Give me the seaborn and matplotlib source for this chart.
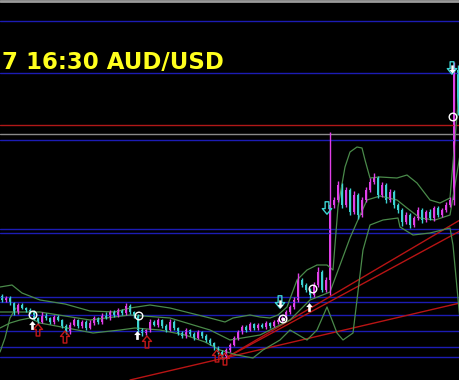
import numpy as np
import pandas as pd
import matplotlib
matplotlib.use("Agg")
import matplotlib.pyplot as plt
from matplotlib.path import Path
import seaborn as sns

# price levels (chart units, bottom of window = 0)
closes = [80, 82, 77, 68, 75, 72, 70, 68, 62, 58, 65, 62, 58, 63, 60, 54, 48, 55, 60, 54,
          58, 52, 57, 62, 58, 65, 62, 68, 65, 70, 67, 74, 68, 64, 50, 47, 50, 58, 55, 60,
          54, 50, 58, 52, 47, 44, 50, 46, 42, 48, 44, 40, 37, 32, 28, 24, 30, 35, 42, 48,
          53, 50, 56, 52, 55, 53, 57, 54, 58, 60, 62, 68, 73, 80, 100, 95, 90, 85, 95, 108,
          90, 100, 175, 180, 195, 175, 190, 168, 185, 165, 180, 190, 198, 202, 185, 195, 180, 188, 175, 170,
          158, 165, 155, 162, 170, 160, 168, 162, 172, 165, 170, 175, 180, 310, 268]
first_open = 84
wick_up = [2, 2, 2, 1, 2, 2, 1, 2, 2, 1, 3, 2, 1, 2, 2, 1, 2, 3, 2, 1,
           2, 2, 3, 2, 1, 2, 3, 2, 2, 2, 1, 3, 2, 1, 2, 2, 1, 3, 2, 2,
           1, 2, 3, 2, 1, 2, 2, 1, 2, 2, 1, 2, 2, 1, 2, 2, 2, 2, 2, 2,
           2, 2, 2, 1, 2, 2, 2, 1, 2, 2, 2, 2, 2, 3, 7, 2, 2, 2, 3, 5,
           2, 3, 73, 3, 4, 2, 3, 2, 4, 2, 3, 3, 4, 5, 2, 3, 2, 3, 2, 2,
           2, 3, 2, 2, 3, 2, 2, 3, 2, 2, 2, 3, 3, 8, 5]
wick_dn = [2, 2, 2, 3, 2, 1, 2, 2, 2, 2, 1, 2, 2, 2, 1, 2, 2, 2, 1, 2,
           2, 2, 1, 2, 2, 2, 1, 2, 2, 2, 2, 2, 2, 2, 2, 3, 2, 2, 1, 2,
           2, 2, 1, 2, 2, 2, 2, 2, 2, 1, 2, 2, 2, 2, 2, 3, 2, 2, 1, 2,
           2, 2, 1, 2, 2, 1, 2, 2, 1, 2, 2, 1, 2, 2, 2, 2, 2, 3, 2, 2,
           2, 2, 15, 3, 2, 3, 2, 3, 2, 4, 2, 2, 2, 2, 3, 2, 3, 2, 3, 3,
           4, 2, 3, 2, 2, 3, 2, 2, 3, 2, 2, 2, 2, 5, 3]

# Bollinger band traces (candle index, level)
upper_x = [-0.5, 2.5, 5, 9.5, 15.75, 22, 28.25, 32, 37, 42, 47, 52, 55.75, 57.75, 62, 64.5, 67, 69, 71.25,
           73.75, 76.25, 78.75, 81.25, 82.75, 84, 85.75, 87, 88.75, 90, 90.75, 92, 94.5, 98.75, 101.25,
           103.75, 107, 109.5, 112, 114.5]
upper_y = [93, 95, 87, 80, 76, 69, 68, 72, 75, 72, 67, 62, 58, 62, 65, 63, 62, 65, 73,
           100, 110, 115, 115, 110, 173, 213, 228, 233, 232, 220, 202, 203, 202, 205,
           197, 180, 177, 182, 300]
mid_x = [-0.5, 9.5, 22, 32, 42, 52, 57, 64.5, 72, 77, 82, 84.5, 87, 88.75, 91.25, 94.5, 98.75, 101.25,
         104.5, 108.25, 112, 114.5]
mid_y = [68, 68, 60, 65, 62, 50, 40, 45, 60, 80, 88, 115, 142, 158, 180, 184, 180, 172,
         162, 160, 165, 225]
lower_x = [-0.5, 2, 4.5, 7, 9.5, 16.25, 22.75, 29.5, 33.25, 39.5, 45.75, 50.75, 54.5, 58.75, 62.75, 65.25,
           69.5, 72, 76.25, 78.75, 81.25, 83.75, 85.25, 87.75, 90.25, 92, 95.25, 99, 99.5, 102.75,
           107, 112, 112.75, 114.5]
lower_y = [52, 57, 60, 62, 57, 52, 47, 50, 52, 50, 45, 38, 30, 25, 22, 30,
           40, 50, 40, 50, 73, 47, 40, 47, 130, 155, 160, 162, 153, 145,
           147, 152, 135, 60]
slow_x = [-0.5, 0.75, 2, 3.5]
slow_y = [28, 42, 62, 72]

# horizontal levels
blue_levels = [359, 307, 240, 151, 147, 83, 78, 65, 49, 33, 23]
red_level = 255
gray_level = 246

# trend lines (start index, start level, end index, end level)
trend_x0 = [32, 55.5, 55.5]
trend_y0 = [0, 21, 21]
trend_x1 = [114.5, 114.5, 114.5]
trend_y1 = [77, 160, 149]

# signal markers (candle index, level)
up_x = [7.5, 33.75, 76.75]
up_y = [55, 45, 73]
redup_x = [9, 15.75, 36.25, 53.75, 55.75]
redup_y = [50, 43, 38, 24, 21]
circle_x = [7.75, 34.25, 70.25, 77.75, 112.75]
circle_y = [65, 64, 61, 91, 263]
dot_x = [70.25]
dot_y = [61]
wdown_x = [69.5, 112.5]
wdown_y = [76, 311]
cdown_x = [69.5, 81.25, 112.5]
cdown_y = [78, 172, 312]

opens = [first_open] + closes[:-1]
df = pd.DataFrame({"i": np.arange(len(closes)), "open": opens, "close": closes})
df["high"] = df[["open", "close"]].max(axis=1) + np.array(wick_up)
df["low"] = df[["open", "close"]].min(axis=1) - np.array(wick_dn)
df["up"] = df["close"] >= df["open"]

arrow_up = Path([(0, 1), (-0.75, 0.1), (-0.3, 0.1), (-0.3, -1), (0.3, -1), (0.3, 0.1), (0.75, 0.1), (0, 1)],
                [Path.MOVETO] + [Path.LINETO] * 6 + [Path.CLOSEPOLY])
arrow_dn = Path([(x, -y) for x, y in arrow_up.vertices], arrow_up.codes)

sns.set_style("dark", {"axes.facecolor": "black", "figure.facecolor": "black"})
fig = plt.figure(figsize=(4.6, 3.8), dpi=100)
ax = fig.add_axes([0, 0, 1, 1])
ax.set_facecolor("black")

for lv in blue_levels:
    ax.axhline(lv, color="#1c1cb4", lw=1)
ax.axhline(red_level, color="#b01818", lw=1)
ax.axhline(gray_level, color="#8a8a8a", lw=1)
ax.axhline(379, color="#9a9a9a", lw=2)

for x0, y0, x1, y1 in zip(trend_x0, trend_y0, trend_x1, trend_y1):
    ax.plot([x0, x1], [y0, y1], color="#b81414", lw=1)

band_green = "#4a8a4a"
for bx, by in [(upper_x, upper_y), (mid_x, mid_y), (lower_x, lower_y), (slow_x, slow_y)]:
    sns.lineplot(x=bx, y=by, ax=ax, color=band_green, lw=0.9, sort=False)

up_col, dn_col = "#e040e8", "#3cd2d2"
colors = np.where(df["up"], up_col, dn_col)
ax.vlines(df["i"], df["low"], df["high"], colors=colors, lw=1)
ax.bar(df["i"], (df["close"] - df["open"]).abs().clip(lower=1.5),
       bottom=df[["open", "close"]].min(axis=1), width=0.7, color=colors, linewidth=0)

ax.scatter(redup_x, redup_y, marker=arrow_up, s=75, facecolors="none", edgecolors="#c01818",
           linewidths=1, zorder=6)
ax.scatter(cdown_x, cdown_y, marker=arrow_dn, s=80, facecolors="none", edgecolors="#3cd2d2",
           linewidths=1, zorder=6)
ax.scatter(up_x, up_y, marker=arrow_up, s=40, color="white", linewidths=0, zorder=7)
ax.scatter(wdown_x, wdown_y, marker=arrow_dn, s=35, color="white", linewidths=0, zorder=7)
ax.scatter(circle_x, circle_y, s=30, facecolors="none", edgecolors="white", linewidths=1, zorder=7)
ax.scatter(dot_x, dot_y, s=3, color="white", zorder=8)

ax.text(0.004, 0.835, "7 16:30 AUD/USD", transform=ax.transAxes, color="#ffff1e",
        fontsize=16.5, fontweight="bold", ha="left", va="center", family="DejaVu Sans")

ax.set_xlim(-0.5, 114.5)
ax.set_ylim(0, 380)
ax.set_xticks([])
ax.set_yticks([])
for s in ax.spines.values():
    s.set_visible(False)

fig.savefig("out.png", dpi=100, facecolor="black")
